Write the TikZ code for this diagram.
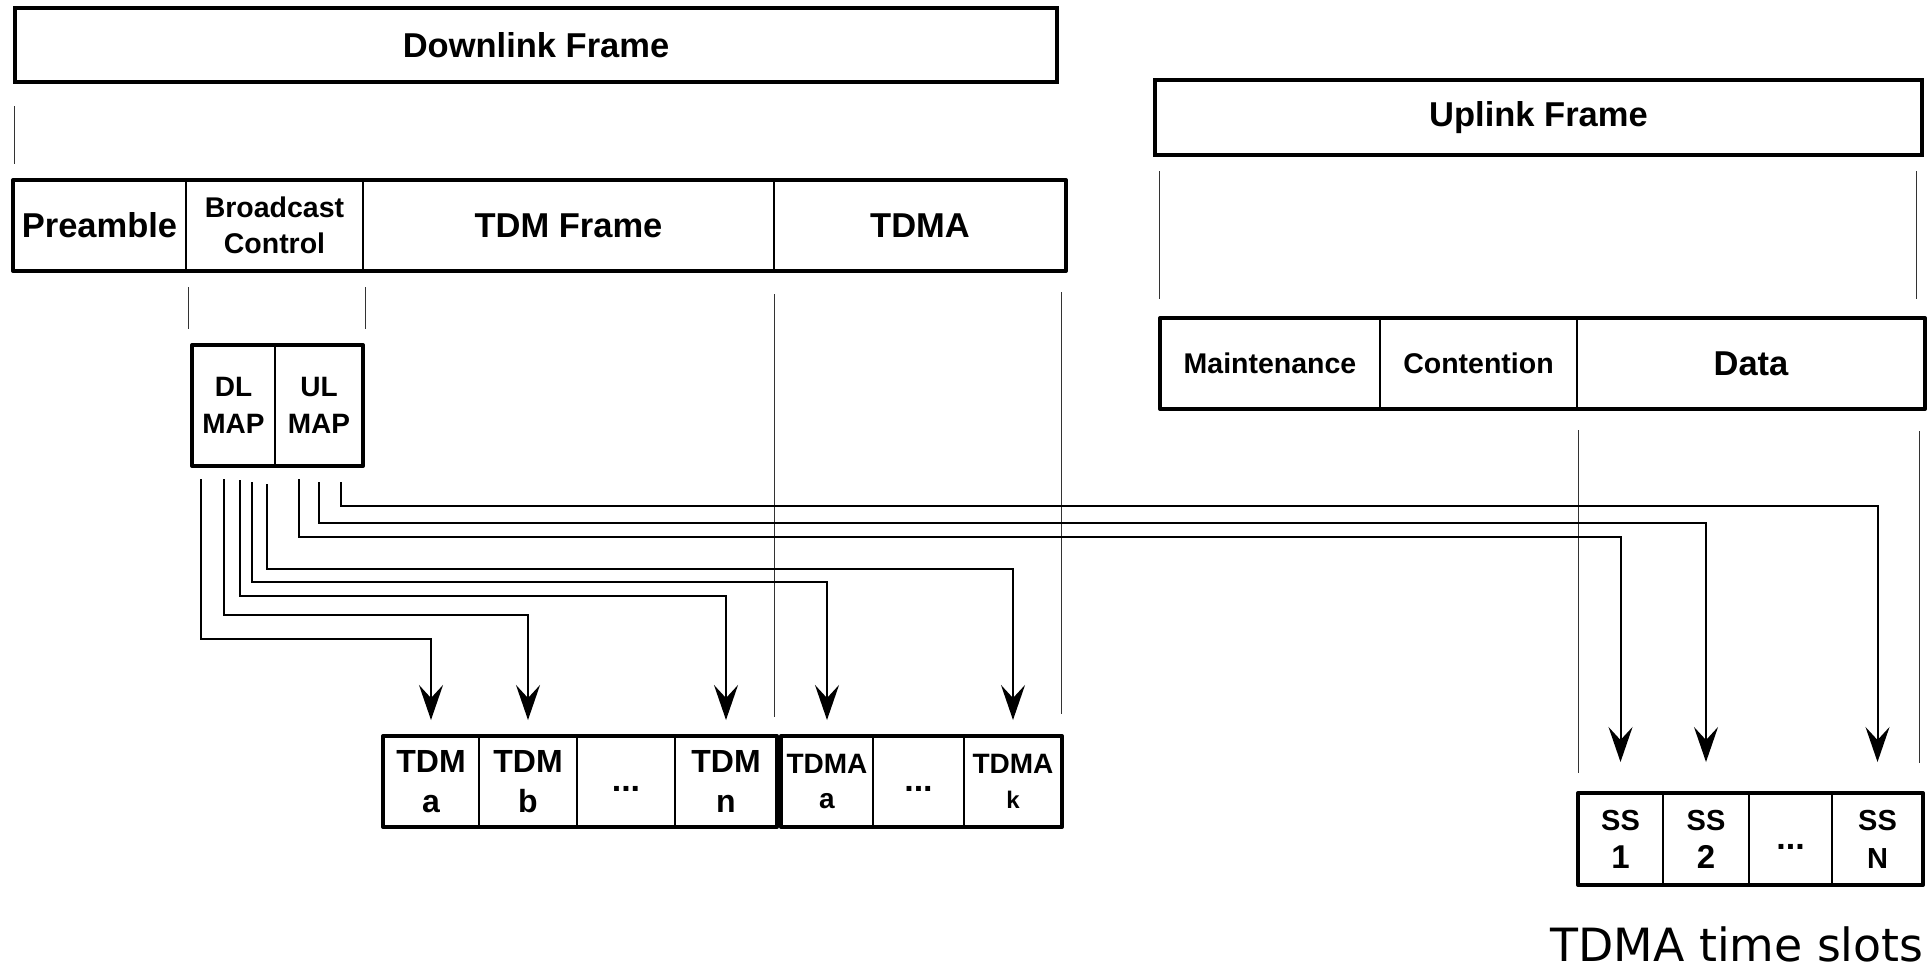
\documentclass[tikz,border=0pt]{standalone}
\usepackage{fontspec}
\setmainfont{Liberation Sans}
\newfontfamily\slotfont{DejaVu Sans}
\usetikzlibrary{arrows.meta}

\newcommand{\headfont}{\bfseries\fontsize{34.5}{38}\selectfont}
\newcommand{\ctlfont}{\bfseries\fontsize{28.5}{36}\selectfont}
\newcommand{\mapfont}{\bfseries\fontsize{28}{37}\selectfont}
\newcommand{\tdmfont}{\bfseries\fontsize{32}{40}\selectfont}
\newcommand{\tdmafont}{\bfseries\fontsize{28}{35}\selectfont}
\newcommand{\ssfont}{\bfseries\fontsize{29}{38}\selectfont}
\newcommand{\dotfont}{\bfseries\fontsize{34}{36}\selectfont}

\begin{document}
\begin{tikzpicture}[x=1pt,y=-1pt,
  cell/.style={draw, line width=1.5pt, inner sep=0pt, outer sep=0pt, anchor=north west, align=center},
  dots/.style={cell, font=\dotfont, text height=20pt, text depth=0pt},
  rowframe/.style={draw, line width=4pt, line join=round},
  guide/.style={line width=1pt, black!80},
  sig/.style={line width=2pt, -{Stealth[length=35pt,width=24pt,inset=13pt]}, shorten >=16pt}]
\useasboundingbox (0,0) rectangle (1932,974);

% downlink side
\node[cell, line width=4pt, minimum width=1042pt, minimum height=74pt, font=\headfont] (dlframe) at (15,8) {Downlink Frame};
\draw[guide] (14,106) -- (14,164); % dlframe
\node[cell, minimum width=173pt, minimum height=91pt, font=\headfont] (pre) at (13,180) {Preamble};
\node[cell, minimum width=177pt, minimum height=91pt, font=\ctlfont] (bc) at (186,180) {Broadcast\\Control};
\node[cell, minimum width=411pt, minimum height=91pt, font=\headfont] (tdmf) at (363,180) {TDM Frame};
\node[cell, minimum width=292pt, minimum height=91pt, font=\headfont] (tdma) at (774,180) {TDMA};
\draw[rowframe] (pre.north west) rectangle (tdma.south east);
\draw[guide] (188,287) -- (188,329); % bc
\draw[guide] (365,287) -- (365,329); % bc
\draw[guide] (774,294) -- (774,717); % tdma
\draw[guide] (1061,292) -- (1061,714); % tdma

% maps
\node[cell, minimum width=83pt, minimum height=121pt, font=\mapfont] (dlmap) at (192,345) {DL\\MAP};
\node[cell, minimum width=88pt, minimum height=121pt, font=\mapfont] (ulmap) at (275,345) {UL\\MAP};
\draw[rowframe] (dlmap.north west) rectangle (ulmap.south east);

% uplink side
\node[cell, line width=4pt, minimum width=767pt, minimum height=75pt, font=\headfont] (ulframe) at (1155,80) {Uplink Frame};
\draw[guide] (1159,171) -- (1159,299); % ulframe
\draw[guide] (1916,171) -- (1916,299); % ulframe
\node[cell, minimum width=220pt, minimum height=91pt, font=\ctlfont] (maint) at (1160,318) {Maintenance};
\node[cell, minimum width=197pt, minimum height=91pt, font=\ctlfont] (cont) at (1380,318) {Contention};
\node[cell, minimum width=348pt, minimum height=91pt, font=\headfont] (data) at (1577,318) {Data};
\draw[rowframe] (maint.north west) rectangle (data.south east);
\draw[guide] (1578,430) -- (1578,773); % data
\draw[guide] (1919,431) -- (1919,763); % data

% tdm slots
\node[cell, minimum width=96pt, minimum height=91pt, font=\tdmfont] (tdmA) at (383,736) {TDM\\a};
\node[cell, minimum width=98pt, minimum height=91pt, font=\tdmfont] (tdmB) at (479,736) {TDM\\b};
\node[dots, minimum width=98pt, minimum height=91pt] (tdmD) at (577,736) {...};
\node[cell, minimum width=102pt, minimum height=91pt, font=\tdmfont] (tdmN) at (675,736) {TDM\\n};
\draw[rowframe] (tdmA.north west) rectangle (tdmN.south east);
\node[cell, minimum width=92pt, minimum height=91pt, font=\tdmafont] (tdmaA) at (781,736) {TDMA\\a};
\node[dots, minimum width=91pt, minimum height=91pt] (tdmaD) at (873,736) {...};
\node[cell, minimum width=98pt, minimum height=91pt, font=\tdmafont] (tdmaK) at (964,736) {TDMA\\{\fontsize{24}{35}\selectfont k}};
\draw[rowframe] (tdmaA.north west) rectangle (tdmaK.south east);

% ss slots
\node[cell, minimum width=85pt, minimum height=92pt, font=\ssfont] (ss1) at (1578,793) {SS\\{\fontsize{33}{38}\selectfont 1}};
\node[cell, minimum width=86pt, minimum height=92pt, font=\ssfont] (ss2) at (1663,793) {SS\\{\fontsize{33}{38}\selectfont 2}};
\node[dots, minimum width=83pt, minimum height=92pt] (ssD) at (1749,793) {...};
\node[cell, minimum width=91pt, minimum height=92pt, font=\ssfont] (ssN) at (1832,793) {SS\\N};
\draw[rowframe] (ss1.north west) rectangle (ssN.south east);
\node[font=\slotfont\fontsize{45.8}{50}\selectfont, anchor=base] (slots) at (1737,961) {TDMA time slots};

% map entries
\coordinate (d1) at (201,479);
\coordinate (d2) at (224,479);
\coordinate (d3) at (240,480);
\coordinate (d4) at (252,482);
\coordinate (d5) at (267,484);
\coordinate (u1) at (299,479);
\coordinate (u2) at (319,482);
\coordinate (u3) at (341,482);
\draw[sig] (d1) -- ++(0,160) -| (tdmA.north); % dl a
\draw[sig] (d2) -- ++(0,136) -| (tdmB.north); % dl b
\draw[sig] (d3) -- ++(0,116) -| (tdmN.north); % dl n
\draw[sig] (d4) -- ++(0,100) -| (tdmaA.north); % dl tdma a
\draw[sig] (d5) -- ++(0,85) -| (tdmaK.north); % dl tdma k
\draw[sig, shorten >=31pt] (u1) -- ++(0,58) -| (ss1.north); % ul 1
\draw[sig, shorten >=31pt] (u2) -- ++(0,41) -| (ss2.north); % ul 2
\draw[sig, shorten >=31pt] (u3) -- ++(0,24) -| (ssN.north); % ul N
\end{tikzpicture}
\end{document}
